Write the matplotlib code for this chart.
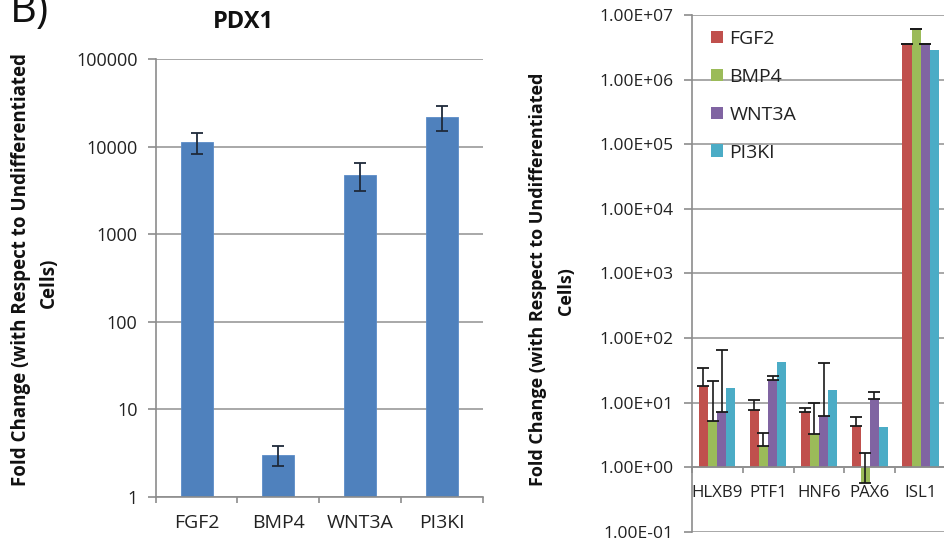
import numpy as np
import matplotlib.pyplot as plt
from matplotlib.ticker import FixedLocator, FixedFormatter, NullLocator

plt.rcParams['font.family'] = ['Open Sans', 'DejaVu Sans']

# PDX1 fold change
pdx1_groups = ['FGF2', 'BMP4', 'WNT3A', 'PI3KI']
pdx1_vals = [11300, 3.05, 4800, 21900]
pdx1_err = [3000, 0.78, 1700, 7000]

# other pancreatic markers
genes = ['HLXB9', 'PTF1', 'HNF6', 'PAX6', 'ISL1']
fgf2 = [18.1, 7.6, 7.1, 4.4, 3.5e6]
bmp4 = [5.2, 2.1, 3.3, 0.57, 6.0e6]
wnt3a = [7.2, 22, 6.2, 11.4, 3.5e6]
pi3ki = [16.6, 42.3, 15.7, 4.2, 2.9e6]
fgf2_err = [16, 3.4, 1.0, 1.6, 6e4]
bmp4_err = [16, 1.3, 6.5, 1.07, 1e5]
wnt3a_err = [59, 3.5, 35, 3.1, 6e4]

series = ['FGF2', 'BMP4', 'WNT3A', 'PI3KI']
colors = ['#C0504D', '#9BBB59', '#8064A2', '#4BACC6']
blue = '#4F81BD'
grid_c = '#A8A8A8'
axis_c = '#8C8C8C'

W, H = 944, 543
fig = plt.figure(figsize=(W / 100, H / 100), dpi=100)


def px_axes(x0, x1, ytop, ybot):
    return fig.add_axes([x0 / W, (H - ybot) / H, (x1 - x0) / W, (ybot - ytop) / H])


def excel_style(ax, ymin, ymax):
    ax.set_yscale('log')
    ax.set_ylim(ymin, ymax)
    ax.yaxis.grid(True, color=grid_c, linewidth=1.4)
    ax.set_axisbelow(True)
    for s in ['top', 'right']:
        ax.spines[s].set_visible(False)
    ax.spines['left'].set_color(axis_c)
    ax.spines['bottom'].set_color(axis_c)
    ax.spines['left'].set_linewidth(1.2)
    ax.spines['bottom'].set_linewidth(1.2)
    ax.yaxis.set_minor_locator(NullLocator())
    ax.tick_params(axis='y', which='major', length=6, color=axis_c, width=1.2, pad=7)
    ax.tick_params(axis='x', which='major', length=0)
    ax.tick_params(axis='x', which='minor', length=4, color=axis_c, width=1.2)


# left panel
ax1 = px_axes(155.7, 482.7, 59, 497)
x1 = np.arange(len(pdx1_groups))
ax1.bar(x1, np.array(pdx1_vals) - 1, bottom=1, width=0.39, color=blue,
        edgecolor='#5B8CC8', linewidth=0.6, zorder=2)
ax1.errorbar(x1, pdx1_vals, yerr=pdx1_err, fmt='none', ecolor='#1F2A3A',
             elinewidth=1.3, capsize=4, capthick=1.3, zorder=3)
excel_style(ax1, 1, 1e5)
ax1.set_xlim(-0.5, len(pdx1_groups) - 0.5)
ax1.yaxis.set_major_locator(FixedLocator([1, 10, 100, 1000, 10000, 100000]))
ax1.yaxis.set_major_formatter(FixedFormatter(['1', '10', '100', '1000', '10000', '100000']))
ax1.set_xticks(x1)
ax1.set_xticklabels(pdx1_groups)
ax1.set_xticks(np.arange(len(pdx1_groups) + 1) - 0.5, minor=True)
ax1.tick_params(axis='y', labelsize=13, labelcolor='#222222')
ax1.tick_params(axis='x', labelsize=14, labelcolor='#222222', pad=12)

fig.text(243 / W, 1 - 22 / H, 'PDX1', ha='center', va='center',
         fontsize=17, fontweight='bold', color='#111111')
fig.text(10 / W, 1 - 22 / H, 'B)', ha='left', va='baseline', fontsize=30,
         color='#111111')
fig.text(21 / W, 1 - 270 / H, 'Fold Change (with Respect to Undifferentiated',
         rotation=90, ha='center', va='center', fontsize=13.5, fontweight='bold',
         color='#111111')
fig.text(49 / W, 1 - 283 / H, 'Cells)', rotation=90, ha='center', va='center',
         fontsize=13.5, fontweight='bold', color='#111111')

# right panel (axes runs past the figure edge)
cat_w = 50.9
ax2 = px_axes(691.7, 691.7 + 6 * cat_w, 15, 531.7)
x2 = np.arange(len(genes))
bw = 0.18
vals = [fgf2, bmp4, wnt3a, pi3ki]
errs = [fgf2_err, bmp4_err, wnt3a_err, None]
for i, (name, v, e, c) in enumerate(zip(series, vals, errs, colors)):
    xs = x2 + (i - 1.5) * bw
    ax2.bar(xs, np.array(v) - 1, bottom=1, width=bw, color=c, label=name, zorder=2)
    if e is not None:
        ax2.errorbar(xs, v, yerr=[np.zeros(len(e)), e], fmt='none', ecolor='#1A1A1A',
                     elinewidth=1.2, capsize=4, capthick=1.3, zorder=3)
excel_style(ax2, 0.1, 1e7)
ax2.set_xlim(-0.5, 5.5)
ax2.spines['bottom'].set_position(('data', 1))
yt = [10.0 ** k for k in range(-1, 8)]
ax2.yaxis.set_major_locator(FixedLocator(yt))
ax2.yaxis.set_major_formatter(FixedFormatter(['%.2fE%+03d' % (1, k) for k in range(-1, 8)]))
ax2.set_xticks(x2)
ax2.set_xticklabels(genes)
ax2.set_xticks(np.arange(len(genes) + 1) - 0.5, minor=True)
ax2.tick_params(axis='y', labelsize=12.5, labelcolor='#222222')
ax2.tick_params(axis='x', labelsize=12.2, labelcolor='#222222', pad=13)

leg = ax2.legend(loc='upper left', bbox_to_anchor=(711 / W, 1 - 30 / H),
                 bbox_transform=fig.transFigure, frameon=False, fontsize=14,
                 handlelength=0.6, handleheight=0.6, handletextpad=0.35,
                 labelspacing=1.02, borderaxespad=0, borderpad=0)
for t in leg.get_texts():
    t.set_color('#222222')

fig.text(538 / W, 1 - 279 / H, 'Fold Change (with Respect to Undifferentiated',
         rotation=90, ha='center', va='center', fontsize=13, fontweight='bold',
         color='#111111')
fig.text(566 / W, 1 - 291 / H, 'Cells)', rotation=90, ha='center', va='center',
         fontsize=13, fontweight='bold', color='#111111')

fig.savefig('out.png', dpi=100)
